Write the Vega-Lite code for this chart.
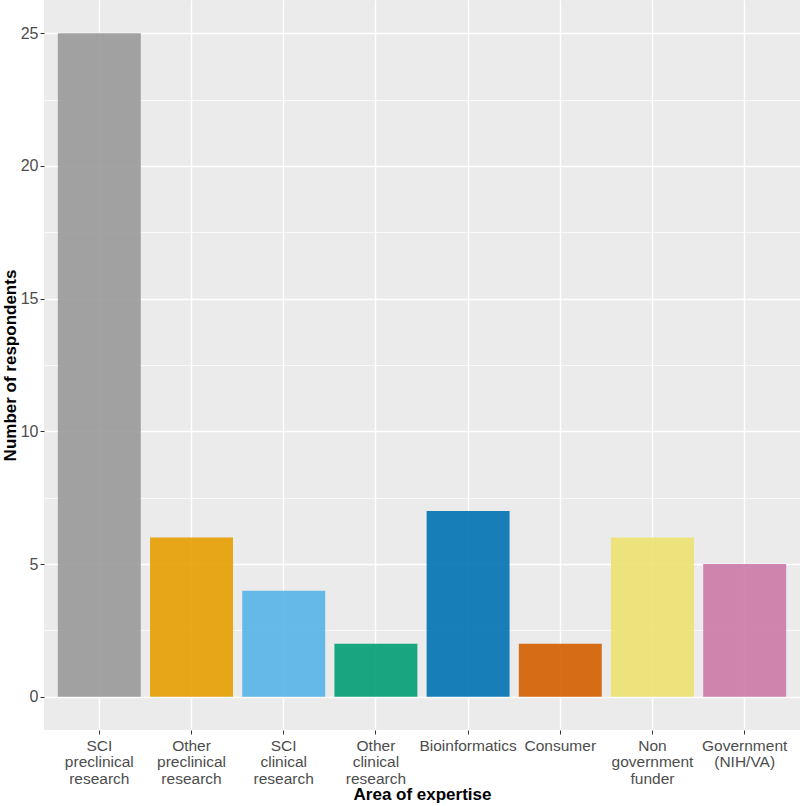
{
  "$schema": "https://vega.github.io/schema/vega-lite/v6.json",
  "width": 756,
  "height": 730,
  "autosize": {"type": "none"},
  "padding": {"left": 44, "top": 0, "right": 0, "bottom": 76},
  "background": "white",
  "config": {
    "view": {"fill": "#EBEBEB", "stroke": null},
    "font": "Liberation Sans",
    "axis": {
      "labelFont": "Liberation Sans",
      "titleFont": "Liberation Sans",
      "labelColor": "#4D4D4D",
      "labelFontSize": 15.5,
      "titleFontSize": 17,
      "titleFontWeight": "bold",
      "titleColor": "#000000",
      "tickColor": "#333333",
      "tickSize": 4,
      "tickWidth": 1,
      "domain": false,
      "gridColor": "#FFFFFF",
      "gridWidth": 1.4,
      "gridOpacity": 1
    }
  },
  "data": {
    "values": [
      {"area": "SCI preclinical research", "count": 25},
      {"area": "Other preclinical research", "count": 6},
      {"area": "SCI clinical research", "count": 4},
      {"area": "Other clinical research", "count": 2},
      {"area": "Bioinformatics", "count": 7},
      {"area": "Consumer", "count": 2},
      {"area": "Non government funder", "count": 6},
      {"area": "Government (NIH/VA)", "count": 5}
    ]
  },
  "layer": [
    {
      "mark": {"type": "bar", "opacity": 0},
      "encoding": {
        "x": {"field": "area", "type": "nominal", "sort": null,
              "scale": {"paddingInner": 0.1, "paddingOuter": 0.15},
              "axis": {"title": "Area of expertise", "labelAngle": 0, "grid": true,
                       "labelExpr": "split(datum.label, ' ')", "labelLineHeight": 16.7,
                       "labelBaseline": "top", "labelPadding": 4, "titlePadding": 0,
                       "bandPosition": 0.5}},
        "y": {"field": "count", "type": "quantitative",
              "scale": {"domain": [-1.25, 26.25], "nice": false, "zero": false},
              "axis": {"orient": "left", "values": [2.5, 7.5, 12.5, 17.5, 22.5], "grid": true, "gridWidth": 0.7,
                       "labels": false, "ticks": false, "title": null, "domain": false}}
      }
    },
    {
      "mark": {"type": "bar", "opacity": 0.9},
      "encoding": {
        "x": {"field": "area", "type": "nominal", "sort": null,
              "scale": {"paddingInner": 0.1, "paddingOuter": 0.15},
              "axis": {"title": "Area of expertise", "labelAngle": 0, "grid": true,
                       "labelExpr": "split(datum.label, ' ')", "labelLineHeight": 16.7,
                       "labelBaseline": "top", "labelPadding": 4, "titlePadding": 0,
                       "bandPosition": 0.5}},
        "y": {"field": "count", "type": "quantitative",
              "scale": {"domain": [-1.25, 26.25], "nice": false, "zero": false},
              "axis": {"title": "Number of respondents", "values": [0, 5, 10, 15, 20, 25],
                       "grid": true, "labelPadding": 2, "titlePadding": 1, "labelFontSize": 16, "orient": "left"}},
        "color": {"field": "area", "type": "nominal", "sort": null, "legend": null,
                  "scale": {"domain": ["SCI preclinical research", "Other preclinical research", "SCI clinical research", "Other clinical research", "Bioinformatics", "Consumer", "Non government funder", "Government (NIH/VA)"],
                            "range": ["#999999", "#E69F00", "#56B4E9", "#009E73", "#0072B2", "#D55E00", "#ECE270", "#CC79A7"]}}
      }
    }
  ],
  "resolve": {"axis": {"y": "independent"}}
}
